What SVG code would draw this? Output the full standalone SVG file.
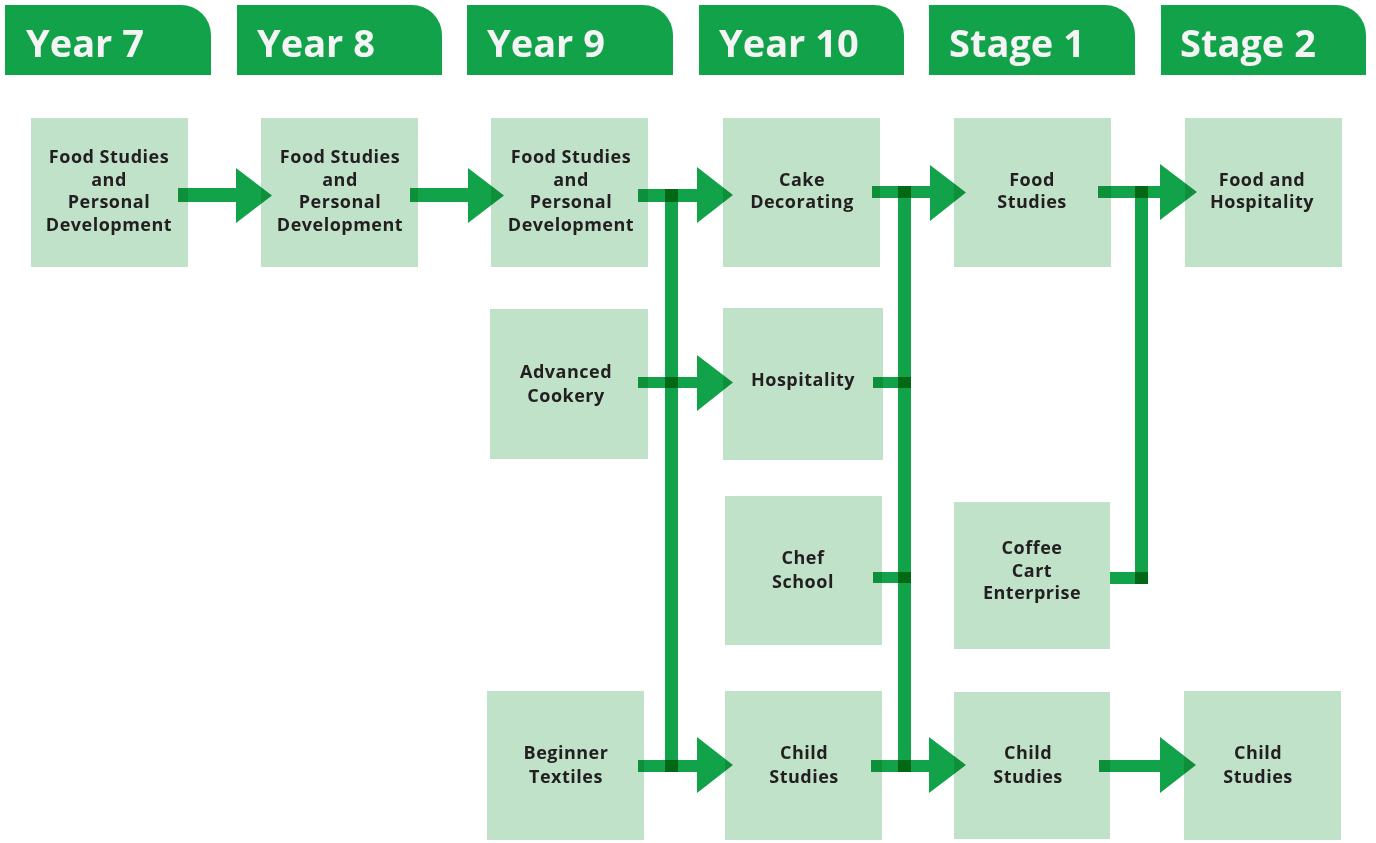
<svg xmlns="http://www.w3.org/2000/svg" width="1376" height="843" viewBox="0 0 1376 843">
<style>
.hdr{fill:#12a34a}
.ht{fill:#f4f4f4;font-family:"Open Sans","Liberation Sans",sans-serif;font-weight:700;font-size:38px}
.box{fill:#bfe2c9}
.bt{fill:#231f20;font-family:"Open Sans","Liberation Sans",sans-serif;font-weight:700;font-size:18px;letter-spacing:0.5px;text-anchor:middle}
.c{fill:#12a34a;mix-blend-mode:multiply}
</style>
<rect width="1376" height="843" fill="#ffffff"/>
<g id="headers">
<g id="h-y7"><path class="hdr" d="M5,75V5H181A30,30 0 0 1 211,35V75Z"/><text class="ht" x="26" y="57">Year 7</text></g>
<g id="h-y8"><path class="hdr" d="M237,75V5H412A30,30 0 0 1 442,35V75Z"/><text class="ht" x="257" y="57">Year 8</text></g>
<g id="h-y9"><path class="hdr" d="M467,75V5H643A30,30 0 0 1 673,35V75Z"/><text class="ht" x="487" y="57">Year 9</text></g>
<g id="h-y10"><path class="hdr" d="M699,75V5H874A30,30 0 0 1 904,35V75Z"/><text class="ht" x="719" y="57">Year 10</text></g>
<g id="h-s1"><path class="hdr" d="M929,75V5H1105A30,30 0 0 1 1135,35V75Z"/><text class="ht" x="949" y="57">Stage 1</text></g>
<g id="h-s2"><path class="hdr" d="M1161,75V5H1336A30,30 0 0 1 1366,35V75Z"/><text class="ht" x="1180" y="57">Stage 2</text></g>
</g>
<g id="y7-food"><rect class="box" x="31" y="118" width="157" height="149"/><text class="bt" x="109" y="163">Food Studies</text><text class="bt" x="109" y="186">and</text><text class="bt" x="109" y="208">Personal</text><text class="bt" x="109" y="231">Development</text></g>
<g id="y8-food"><rect class="box" x="261" y="118" width="157" height="149"/><text class="bt" x="340" y="163">Food Studies</text><text class="bt" x="340" y="186">and</text><text class="bt" x="340" y="208">Personal</text><text class="bt" x="340" y="231">Development</text></g>
<g id="y9-food"><rect class="box" x="491" y="118" width="157" height="149"/><text class="bt" x="571" y="163">Food Studies</text><text class="bt" x="571" y="186">and</text><text class="bt" x="571" y="208">Personal</text><text class="bt" x="571" y="231">Development</text></g>
<g id="y9-adv"><rect class="box" x="490" y="309" width="158" height="150"/><text class="bt" x="566" y="378">Advanced</text><text class="bt" x="566" y="402">Cookery</text></g>
<g id="y9-tex"><rect class="box" x="487" y="691" width="157" height="149"/><text class="bt" x="566" y="759">Beginner</text><text class="bt" x="566" y="783">Textiles</text></g>
<g id="y10-cake"><rect class="box" x="723" y="118" width="157" height="149"/><text class="bt" x="802" y="186">Cake</text><text class="bt" x="802" y="208">Decorating</text></g>
<g id="y10-hosp"><rect class="box" x="723" y="308" width="160" height="152"/><text class="bt" x="803" y="386">Hospitality</text></g>
<g id="y10-chef"><rect class="box" x="725" y="496" width="157" height="149"/><text class="bt" x="803" y="564">Chef</text><text class="bt" x="803" y="588">School</text></g>
<g id="y10-child"><rect class="box" x="725" y="691" width="157" height="149"/><text class="bt" x="804" y="759">Child</text><text class="bt" x="804" y="783">Studies</text></g>
<g id="s1-food"><rect class="box" x="954" y="118" width="157" height="149"/><text class="bt" x="1032" y="186">Food</text><text class="bt" x="1032" y="208">Studies</text></g>
<g id="s1-coffee"><rect class="box" x="954" y="502" width="156" height="147"/><text class="bt" x="1032" y="554">Coffee</text><text class="bt" x="1032" y="577">Cart</text><text class="bt" x="1032" y="599">Enterprise</text></g>
<g id="s1-child"><rect class="box" x="954" y="692" width="156" height="147"/><text class="bt" x="1028" y="759">Child</text><text class="bt" x="1028" y="783">Studies</text></g>
<g id="s2-food"><rect class="box" x="1185" y="118" width="157" height="149"/><text class="bt" x="1262" y="186">Food and</text><text class="bt" x="1262" y="208">Hospitality</text></g>
<g id="s2-child"><rect class="box" x="1184" y="691" width="157" height="149"/><text class="bt" x="1258" y="759">Child</text><text class="bt" x="1258" y="783">Studies</text></g>
<g id="connectors">
<path class="c" d="M178,188H236V168L272,195.5L236,223V202H178Z"/>
<path class="c" d="M410,188H468V168L504,195.5L468,223V202H410Z"/>
<path class="c" d="M638,189H697V167L733,195L697,223V202H638Z"/>
<path class="c" d="M638,377H697V355L733,382.5L697,411V388H638Z"/>
<path class="c" d="M638,760H697V737L733,765L697,793V772H638Z"/>
<rect class="c" x="665" y="189" width="13" height="583"/>
<path class="c" d="M872,186H930V165L966,192.5L930,221V198H872Z"/>
<rect class="c" x="873" y="377" width="38" height="11"/>
<rect class="c" x="873" y="572" width="38" height="11"/>
<path class="c" d="M871,760H929V737L966,765L929,793V772H871Z"/>
<rect class="c" x="898" y="186" width="13" height="586"/>
<path class="c" d="M1098,186H1160V164L1197,192L1160,220V198H1098Z"/>
<rect class="c" x="1110" y="572" width="38" height="12"/>
<rect class="c" x="1135" y="186" width="13" height="398"/>
<path class="c" d="M1099,760H1160V737L1196,765L1160,793V772H1099Z"/>
</g>
</svg>
